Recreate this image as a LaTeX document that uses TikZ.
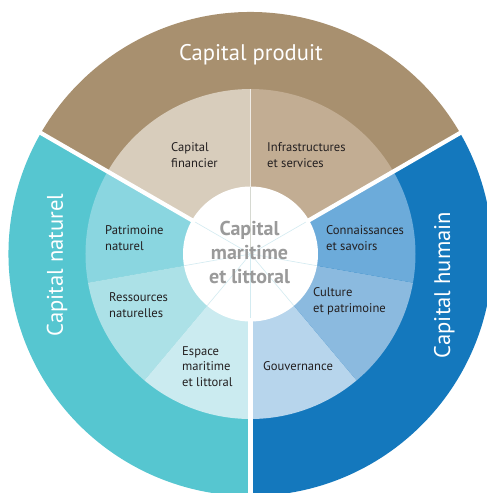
\documentclass[tikz,border=0pt]{standalone}
\usepackage{fontspec}
\setmainfont{PT Sans}
\definecolor{prodO}{HTML}{A8906F}
\definecolor{finC}{HTML}{D8CDBC}
\definecolor{infC}{HTML}{C2AD93}
\definecolor{natO}{HTML}{56C6D0}
\definecolor{patC}{HTML}{8AD6E0}
\definecolor{resC}{HTML}{ACE1E7}
\definecolor{espC}{HTML}{CBEBF0}
\definecolor{humO}{HTML}{1478BD}
\definecolor{conC}{HTML}{6CABDA}
\definecolor{culC}{HTML}{8BBADF}
\definecolor{gouC}{HTML}{B7D5EC}
\definecolor{txtC}{HTML}{231F20}
\definecolor{midC}{HTML}{9A9A9A}
\definecolor{faintC}{HTML}{D3EBF1}
\tikzset{
  outerlbl/.style={text=white, font=\fontsize{22.6}{26}\selectfont, inner sep=0pt, anchor=base},
  innerlbl/.style={text=txtC, font=\fontsize{12.6}{15.5}\selectfont, inner sep=0pt, align=left, anchor=base west},
  centerlbl/.style={text=midC, font=\bfseries\fontsize{20}{24.3}\selectfont, inner sep=0pt, align=center, anchor=base},
  gapline/.style={white, line width=4.2pt},
  faint/.style={faintC, line width=0.6pt}
}
\newcommand{\mysector}[4]{\fill[#1] (0,0) -- (#2:#4) arc[start angle=#2, end angle=#3, radius=#4] -- cycle;}
\begin{document}
\begin{tikzpicture}[x=1pt,y=1pt]
\useasboundingbox (-250.5,-239) rectangle (236.5,254);
\fill[white] (-250.5,-239) rectangle (236.5,254);
\coordinate (c) at (0,0);
% outer ring
\mysector{prodO}{30}{150}{242}
\mysector{natO}{150}{270}{242}
\mysector{humO}{270}{390}{242}
% middle ring
\mysector{infC}{30}{90}{165}
\mysector{finC}{90}{150}{165}
\mysector{patC}{150}{190}{165}
\mysector{resC}{190}{230}{165}
\mysector{espC}{230}{270}{165}
\mysector{gouC}{270}{310}{165}
\mysector{culC}{310}{350}{165}
\mysector{conC}{350}{390}{165}
% thin line between financier and infrastructures
\draw[white, line width=0.9pt, opacity=0.75] (90:66) -- (90:165);
% center circle
\fill[white] (c) circle[radius=67.5];
% faint spokes inside the circle
\foreach \a in {30,150,190,230,270,310,350} {\draw[faint] (c) -- (\a:67.5);}
\draw[faintC!40!finC, line width=0.6pt] (c) -- (90:67.5);
% white gaps
\foreach \a in {30,150,270} {\draw[gapline] (\a:64) -- (\a:260);}
% outer labels
\node[outerlbl] (prod) at (0.5,193) {Capital produit};
\node[outerlbl, rotate=90] (nat) at (-187.5,-11) {Capital naturel};
\node[outerlbl, rotate=90] (hum) at (199.5,-31) {Capital humain};
% inner labels (base = last line)
\node[innerlbl] (fin) at (-79.5,87) {Capital\\financier};
\node[innerlbl] (inf) at (16.5,87) {Infrastructures\\et services};
\node[innerlbl] (pat) at (-145.5,4) {Patrimoine\\naturel};
\node[innerlbl] (con) at (75.5,4) {Connaissances\\et savoirs};
\node[innerlbl] (res) at (-141.5,-63) {Ressources\\naturelles};
\node[innerlbl] (cul) at (62.5,-58) {Culture\\et patrimoine};
\node[innerlbl] (esp) at (-68.5,-132) {Espace\\maritime\\et littoral};
\node[innerlbl] (gou) at (12.5,-116) {Gouvernance};
% center label
\node[centerlbl] (mid) at (-1,-29.7) {Capital\\maritime\\et littoral};
\end{tikzpicture}
\end{document}
